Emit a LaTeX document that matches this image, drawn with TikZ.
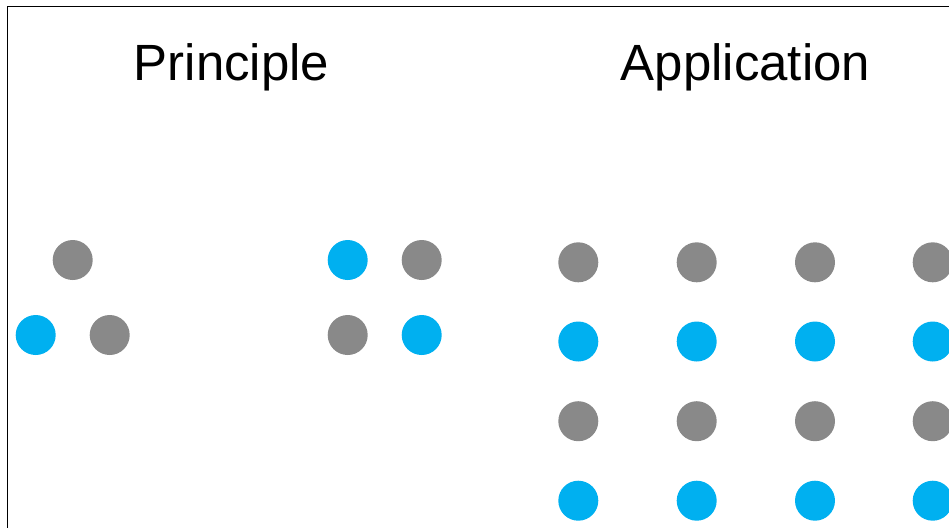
\documentclass[tikz,border=0pt]{standalone}
\usepackage{fontspec}
\setmainfont{Liberation Sans}
\usepackage{tikz}

\definecolor{dotgray}{RGB}{137,137,137}
\definecolor{dotblue}{RGB}{0,176,240}

\tikzset{
  gdot/.style={circle,fill=dotgray,minimum size=0.4cm,inner sep=0pt},
  bdot/.style={circle,fill=dotblue,minimum size=0.4cm,inner sep=0pt},
  heading/.style={anchor=base,font=\fontsize{14.5}{17}\selectfont}
}

\begin{document}
\begin{tikzpicture}
\useasboundingbox (0,0) rectangle (9.49,-5.27);
\clip (0,0) rectangle (9.49,-5.27);
\draw[line width=0.4pt] (0.073,-0.065) rectangle (10,-6);

\node[heading] (princ) at (2.315,-0.807) {Principle};
\node[heading] (appl) at (7.455,-0.807) {Application};

% three dots
\node[gdot] (t1) at (0.727,-2.60) {};
\node[bdot] (t2) at (0.357,-3.35) {};
\node[gdot] (t3) at (1.097,-3.35) {};

% four dots
\node[bdot] (q11) at (3.477,-2.60) {};
\node[gdot] (q12) at (4.217,-2.60) {};
\node[gdot] (q21) at (3.477,-3.35) {};
\node[bdot] (q22) at (4.217,-3.35) {};

% grid
\node[gdot] (g11) at (5.783,-2.623) {};
\node[gdot] (g12) at (6.967,-2.623) {};
\node[gdot] (g13) at (8.150,-2.623) {};
\node[gdot] (g14) at (9.327,-2.623) {};
\node[bdot] (g21) at (5.783,-3.415) {};
\node[bdot] (g22) at (6.967,-3.415) {};
\node[bdot] (g23) at (8.150,-3.415) {};
\node[bdot] (g24) at (9.327,-3.415) {};
\node[gdot] (g31) at (5.783,-4.212) {};
\node[gdot] (g32) at (6.967,-4.212) {};
\node[gdot] (g33) at (8.150,-4.212) {};
\node[gdot] (g34) at (9.327,-4.212) {};
\node[bdot] (g41) at (5.783,-5.007) {};
\node[bdot] (g42) at (6.967,-5.007) {};
\node[bdot] (g43) at (8.150,-5.007) {};
\node[bdot] (g44) at (9.327,-5.007) {};
\end{tikzpicture}
\end{document}
